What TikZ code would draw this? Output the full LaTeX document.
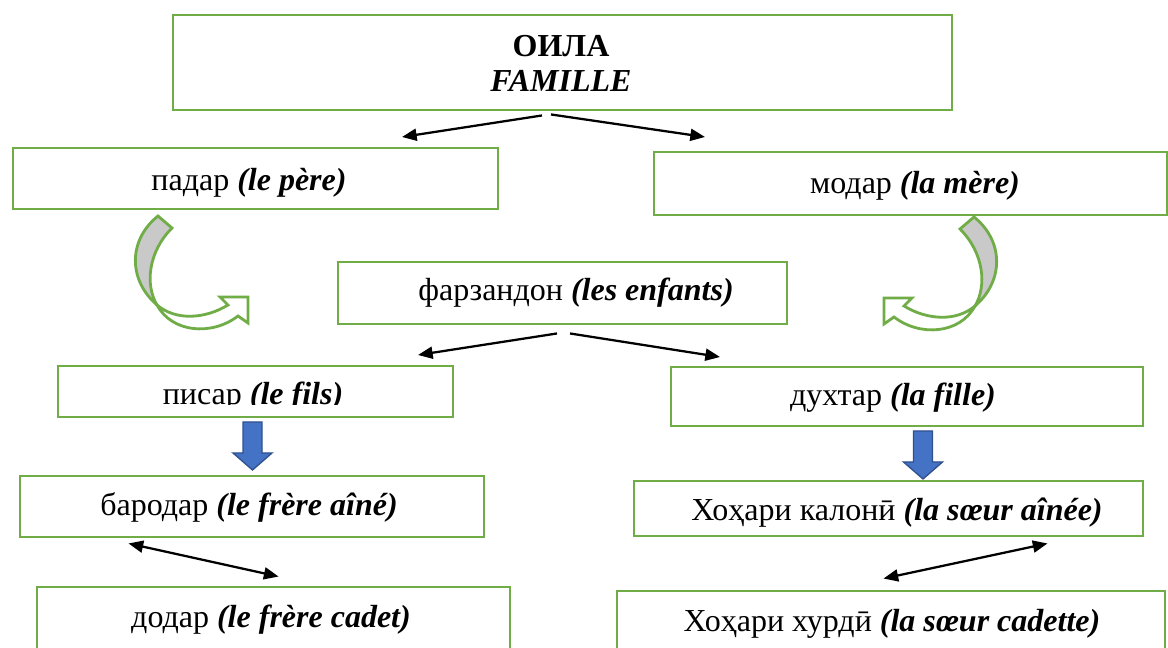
\documentclass[tikz,border=0pt]{standalone}
\usepackage{fontspec}
\setmainfont{Liberation Serif}
\usetikzlibrary{arrows.meta,calc}
\definecolor{boxgreen}{HTML}{70AD47}
\definecolor{arrblue}{HTML}{4472C4}
\definecolor{arrblueedge}{HTML}{2F528F}
\definecolor{backgray}{HTML}{C9C9C9}
\newcommand{\curvedarrowshape}{%
  \path[curvb] (158,216) -- (172,228) .. controls (148,252) and (145,285) .. (157,305)
     .. controls (128,280) and (128,240) .. (158,216) -- cycle;
  \path[curvf] (157,305) .. controls (172,333) and (212,336) .. (238,316)
     -- (248,323) -- (248,297) -- (220,297) -- (228,305)
     .. controls (205,319) and (176,321) .. (157,305) -- cycle;
}
\begin{document}
\begin{tikzpicture}[x=0.75pt,y=-0.75pt,
  box/.style={draw=boxgreen, line width=2.2pt, rectangle, inner sep=0pt, fill=white},
  lbl/.style={font=\fontsize{24}{28}\selectfont, anchor=base, inner sep=0pt},
  conn/.style={line width=1.7pt, -{Triangle[length=11pt,width=9pt]}},
  dconn/.style={line width=1.7pt, {Triangle[length=11pt,width=9pt]}-{Triangle[length=11pt,width=9pt]}},
  blk/.style={fill=arrblue, draw=arrblueedge, line width=1pt, line join=miter},
  curvb/.style={fill=backgray, draw=boxgreen, line width=2.1pt, line join=miter},
  curvf/.style={fill=white, draw=boxgreen, line width=2.1pt, line join=miter}]
\useasboundingbox[fill=white] (0,0) rectangle (1168,648);

% boxes
\node[box, minimum width=779*0.75pt, minimum height=95*0.75pt] (famille) at (562.5,62.5) {};
\node[box, minimum width=485*0.75pt, minimum height=61*0.75pt] (pere) at (255.5,178.5) {};
\node[box, minimum width=513*0.75pt, minimum height=63*0.75pt] (mere) at (910.5,183.5) {};
\node[box, minimum width=449*0.75pt, minimum height=62*0.75pt] (enfants) at (562.5,293) {};
\node[box, minimum width=395*0.75pt, minimum height=51*0.75pt] (fils) at (255.5,391.5) {};
\node[box, minimum width=472*0.75pt, minimum height=59*0.75pt] (fille) at (907,396.5) {};
\node[box, minimum width=464*0.75pt, minimum height=61*0.75pt] (aine) at (252,506.5) {};
\node[box, minimum width=509*0.75pt, minimum height=55*0.75pt] (saine) at (888.5,508.5) {};
\node[box, minimum width=473*0.75pt, minimum height=80*0.75pt] (cadet) at (273.5,627) {};
\node[box, minimum width=548*0.75pt, minimum height=80*0.75pt] (cadette) at (891,631) {};

% texts
\node[lbl] (t-oila) at (561,57) {\textbf{ОИЛА}};
\node[lbl] (t-famille) at (561,92) {\textbf{\textit{FAMILLE}}};
\node[lbl] (t-pere) at (249,191) {падар \textbf{\textit{(le père)}}};
\node[lbl] (t-mere) at (915,194) {модар \textbf{\textit{(la mère)}}};
\node[lbl] (t-enf) at (576,301) {фарзандон \textbf{\textit{(les enfants)}}};
\begin{scope}
  \clip (fils.north west) rectangle ($(fils.east)+(0,13)$);
  \node[lbl] (t-fils) at (253,405) {писар \textbf{\textit{(le fils)}}};
\end{scope}
\node[lbl] (t-fille) at (893,406) {духтар \textbf{\textit{(la fille)}}};
\node[lbl] (t-aine) at (249,516) {бародар \textbf{\textit{(le frère aîné)}}};
\node[lbl] (t-saine) at (897,521) {Хоҳари калонӣ \textbf{\textit{(la sœur aînée)}}};
\node[lbl] (t-cadet) at (271,627) {додар \textbf{\textit{(le frère cadet)}}};
\node[lbl] (t-cadette) at (892,631) {Хоҳари хурдӣ \textbf{\textit{(la sœur cadette)}}};

% connectors
\coordinate (e-pere) at (402,137);
\coordinate (e-mere) at (705,137);
\coordinate (e-fils) at (418,355);
\coordinate (e-fille) at (720,357);
\draw[conn] ($(famille.south)+(-20.5,4)$) -- (e-pere);
\draw[conn] ($(famille.south)+(-11.5,3)$) -- (e-mere);
\draw[conn] ($(enfants.south)+(-5.5,8)$) -- (e-fils);
\draw[conn] ($(enfants.south)+(7.5,8)$) -- (e-fille);
\draw[dconn] ($(aine.south west)+(110,5)$) -- ($(cadet.north west)+(243,-9)$);
\draw[dconn] ($(saine.south east)+(-97,6)$) -- ($(cadette.north west)+(268,-11)$);

% blue block arrows
\draw[blk] (243,422) -- (262,422) -- (262,453) -- (272,453) -- (252.5,470) -- (233,453) -- (243,453) -- cycle;
\begin{scope}[shift={(670.5,9)}]
\draw[blk] (243,422) -- (262,422) -- (262,453) -- (272,453) -- (252.5,470) -- (233,453) -- (243,453) -- cycle;
\end{scope}

% curved arrows
\curvedarrowshape
\begin{scope}[shift={(1132,1)}, xscale=-1]
\curvedarrowshape
\end{scope}
\end{tikzpicture}
\end{document}
